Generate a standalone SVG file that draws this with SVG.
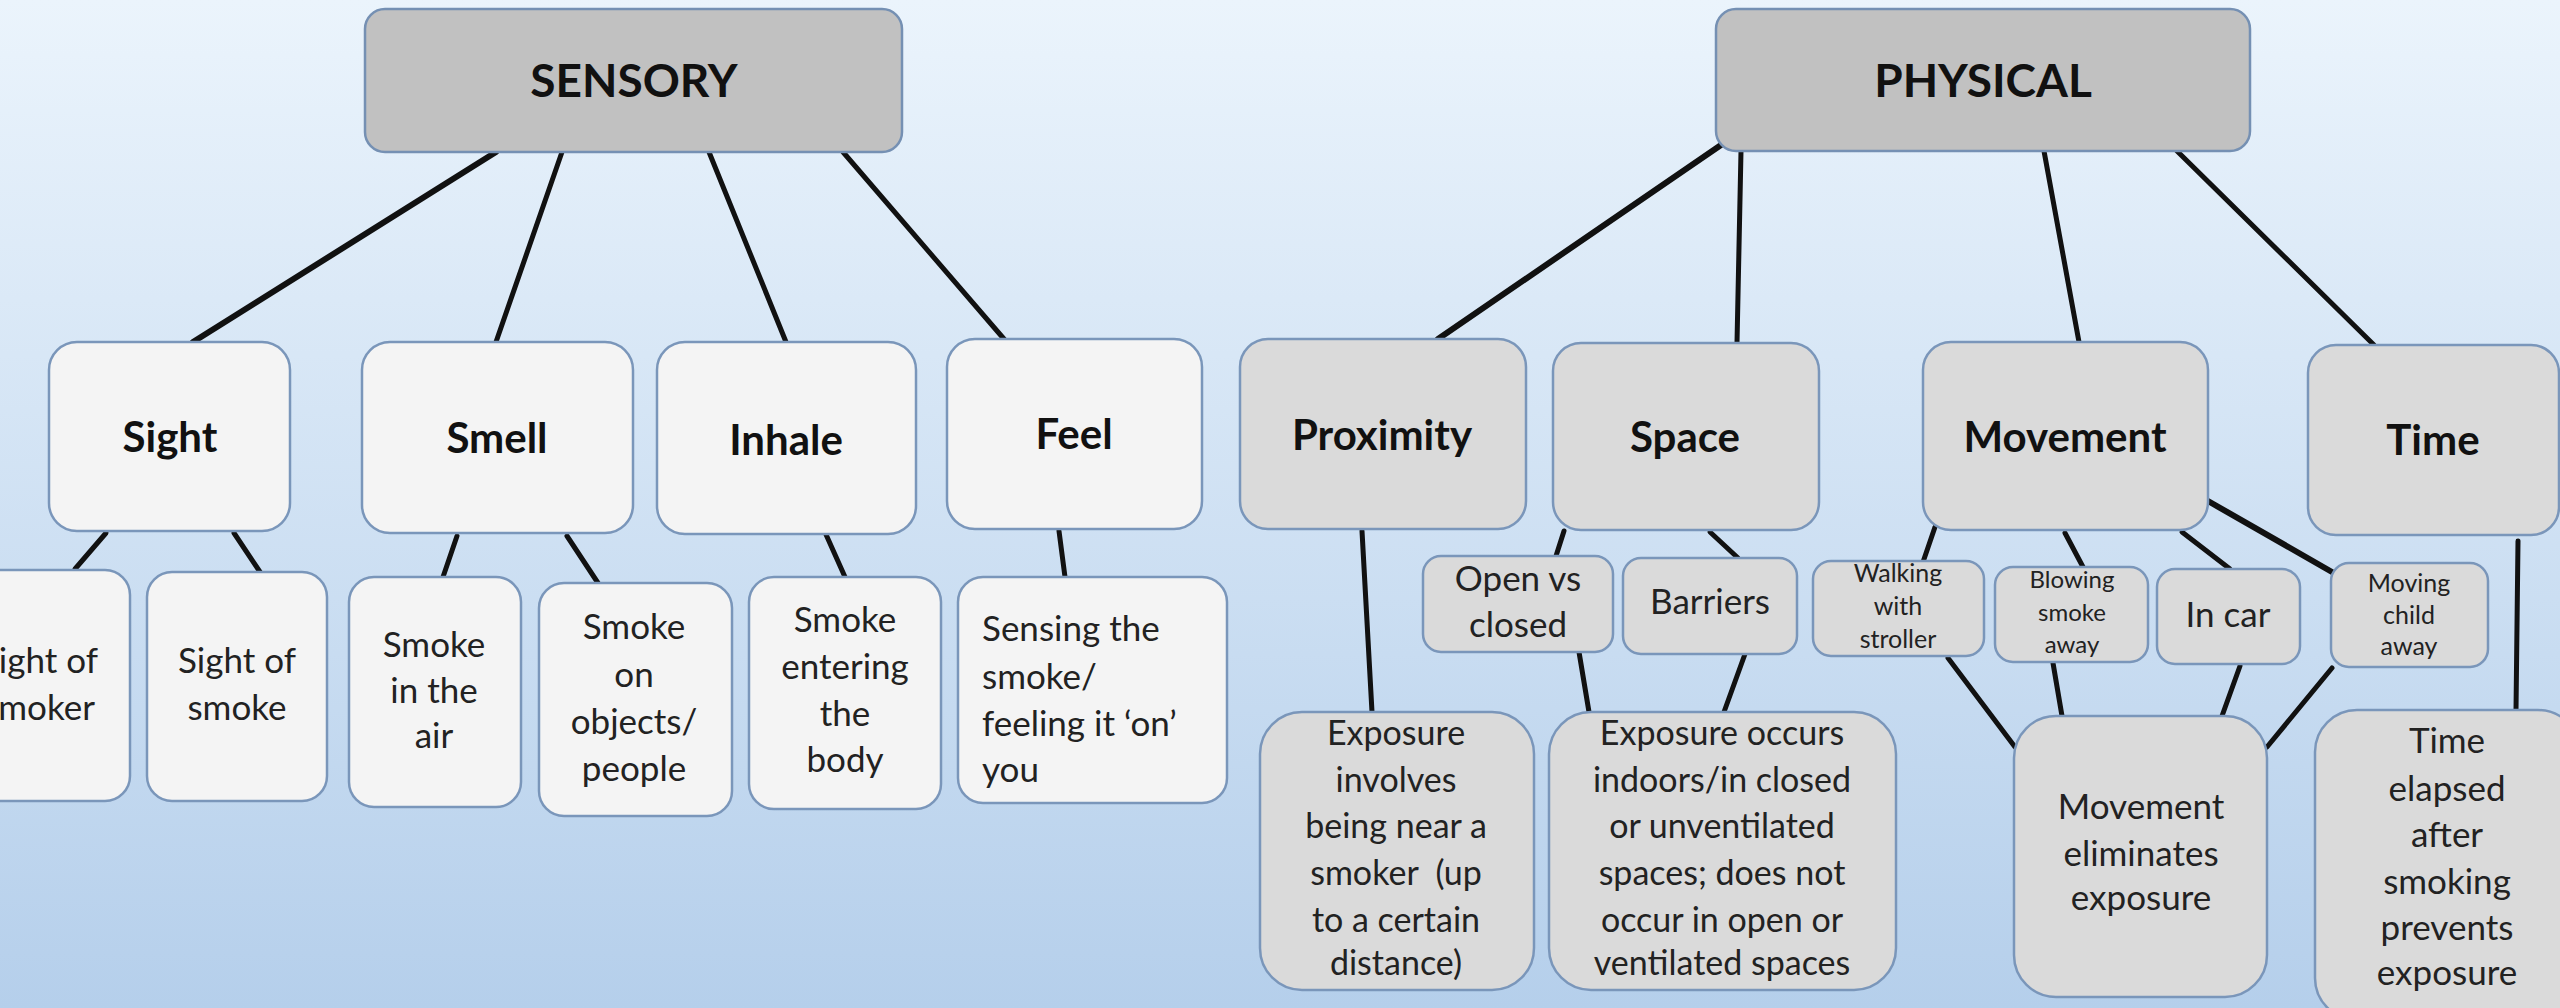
<svg xmlns="http://www.w3.org/2000/svg" width="2560" height="1008" viewBox="0 0 2560 1008">
<defs>
<linearGradient id="bg" x1="0" y1="0" x2="0" y2="1">
<stop offset="0" stop-color="#ebf4fc"/>
<stop offset="1" stop-color="#b5cfeb"/>
</linearGradient>
</defs>
<style>
.top{fill:#c1c1c1;stroke:#7590b3;stroke-width:2.5}
.lt{fill:#f4f4f4;stroke:#7a96ba;stroke-width:2.5}
.gr{fill:#dadada;stroke:#7a96ba;stroke-width:2.5}
text{font-family:Lato,"Open Sans","Liberation Sans",sans-serif;fill:#222;text-anchor:middle}
.h1{font-size:46px;font-weight:bold;fill:#111}
.h2{font-size:42px;font-weight:bold;fill:#111}
.t{font-size:35px}
.t4{font-size:34px}
.s{font-size:25px}
.s2{font-size:24px}
.c line{stroke:#111;stroke-width:5;stroke-linecap:round}
.c line.w{stroke-width:6}
</style>
<rect x="0" y="0" width="2560" height="1008" fill="url(#bg)"/>

<g class="c" id="connectors">
<line class="w" x1="496" y1="152" x2="193" y2="342"/>
<line x1="562" y1="152" x2="496" y2="342"/>
<line x1="709" y1="152" x2="786" y2="342"/>
<line x1="843" y1="152" x2="1004" y2="339"/>
<line x1="106" y1="533" x2="75" y2="569"/>
<line x1="234" y1="533" x2="260" y2="572"/>
<line x1="457" y1="536" x2="443" y2="577"/>
<line x1="567" y1="536" x2="598" y2="583"/>
<line x1="824" y1="530" x2="845" y2="577"/>
<line x1="1059" y1="531" x2="1065" y2="577"/>
<line class="w" x1="1721" y1="145" x2="1438" y2="339"/>
<line x1="1741" y1="151" x2="1737" y2="343"/>
<line x1="2044" y1="151" x2="2079" y2="342"/>
<line x1="2177" y1="151" x2="2374" y2="345"/>
<line x1="1362" y1="531" x2="1372" y2="712"/>
<line x1="1564" y1="531" x2="1556" y2="556"/>
<line x1="1710" y1="532" x2="1738" y2="558"/>
<line x1="1579" y1="652" x2="1589" y2="712"/>
<line x1="1745" y1="654" x2="1724" y2="712"/>
<line x1="1935" y1="527" x2="1922" y2="565"/>
<line x1="2065" y1="533" x2="2083" y2="567"/>
<line x1="2182" y1="532" x2="2230" y2="569"/>
<line class="w" x1="2208" y1="501" x2="2332" y2="572"/>
<line x1="1948" y1="658" x2="2015" y2="747"/>
<line x1="2053" y1="663" x2="2062" y2="716"/>
<line x1="2240" y1="666" x2="2222" y2="716"/>
<line x1="2332" y1="668" x2="2267" y2="747"/>
<line x1="2518" y1="541" x2="2516" y2="710"/>
</g>

<g id="sensory"><rect class="top" x="365" y="9" width="537" height="143" rx="20"/><text class="h1" x="634" y="97">SENSORY</text></g>
<g id="physical"><rect class="top" x="1716" y="9" width="534" height="142" rx="20"/><text class="h1" x="1983" y="97">PHYSICAL</text></g>

<g id="sight"><rect class="lt" x="49" y="342" width="241" height="189" rx="28"/><text class="h2" x="170" y="452">Sight</text></g>
<g id="smell"><rect class="lt" x="362" y="342" width="271" height="191" rx="28"/><text class="h2" x="497" y="453">Smell</text></g>
<g id="inhale"><rect class="lt" x="657" y="342" width="259" height="192" rx="28"/><text class="h2" x="786" y="455">Inhale</text></g>
<g id="feel"><rect class="lt" x="947" y="339" width="255" height="190" rx="28"/><text class="h2" x="1074" y="449">Feel</text></g>

<g id="proximity"><rect class="gr" x="1240" y="339" width="286" height="190" rx="28"/><text class="h2" x="1382" y="450">Proximity</text></g>
<g id="space"><rect class="gr" x="1553" y="343" width="266" height="187" rx="28"/><text class="h2" x="1685" y="452">Space</text></g>
<g id="movement"><rect class="gr" x="1923" y="342" width="285" height="188" rx="28"/><text class="h2" x="2065" y="452">Movement</text></g>
<g id="time"><rect class="gr" x="2308" y="345" width="251" height="190" rx="28"/><text class="h2" x="2433" y="455">Time</text></g>

<g id="sight-smoker"><rect class="lt" x="-51" y="570" width="181" height="231" rx="25"/><text class="t" x="39" y="673">Sight of</text><text class="t" x="39" y="720">smoker</text></g>
<g id="sight-smoke"><rect class="lt" x="147" y="572" width="180" height="229" rx="25"/><text class="t" x="237" y="673">Sight of</text><text class="t" x="237" y="720">smoke</text></g>
<g id="smoke-air"><rect class="lt" x="349" y="577" width="172" height="230" rx="25"/><text class="t" x="434" y="657">Smoke</text><text class="t" x="434" y="703">in the</text><text class="t" x="434" y="748">air</text></g>
<g id="smoke-objects"><rect class="lt" x="539" y="583" width="193" height="233" rx="25"/><text class="t" x="634" y="639">Smoke</text><text class="t" x="634" y="687">on</text><text class="t" x="634" y="734">objects/</text><text class="t" x="634" y="781">people</text></g>
<g id="smoke-entering"><rect class="lt" x="749" y="577" width="192" height="232" rx="25"/><text class="t" x="845" y="632">Smoke</text><text class="t" x="845" y="679">entering</text><text class="t" x="845" y="726">the</text><text class="t" x="845" y="772">body</text></g>
<g id="sensing"><rect class="lt" x="958" y="577" width="269" height="226" rx="25"/><text class="t" x="982" y="641" style="text-anchor:start">Sensing the</text><text class="t" x="982" y="689" style="text-anchor:start">smoke/</text><text class="t" x="982" y="736" style="text-anchor:start">feeling it ‘on’</text><text class="t" x="982" y="782" style="text-anchor:start">you</text></g>

<g id="open-closed"><rect class="gr" x="1423" y="556" width="190" height="96" rx="18"/><text class="t" x="1518" y="591">Open vs</text><text class="t" x="1518" y="637">closed</text></g>
<g id="barriers"><rect class="gr" x="1623" y="558" width="174" height="96" rx="18"/><text class="t" x="1710" y="614">Barriers</text></g>
<g id="walking"><rect class="gr" x="1813" y="561" width="171" height="95" rx="18"/><text class="s" x="1898" y="582">Walking</text><text class="s" x="1898" y="615">with</text><text class="s" x="1898" y="648">stroller</text></g>
<g id="blowing"><rect class="gr" x="1995" y="567" width="153" height="95" rx="18"/><text class="s2" x="2072" y="588">Blowing</text><text class="s2" x="2072" y="621">smoke</text><text class="s2" x="2072" y="653">away</text></g>
<g id="incar"><rect class="gr" x="2157" y="569" width="143" height="95" rx="18"/><text class="t" x="2228" y="627">In car</text></g>
<g id="moving-child"><rect class="gr" x="2331" y="563" width="157" height="104" rx="18"/><text class="s" x="2409" y="592">Moving</text><text class="s" x="2409" y="624">child</text><text class="s" x="2409" y="655">away</text></g>

<g id="exposure-near"><rect class="gr" x="1260" y="712" width="274" height="278" rx="42"/><text class="t4" x="1396" y="745">Exposure</text><text class="t4" x="1396" y="792">involves</text><text class="t4" x="1396" y="838">being near a</text><text class="t4" x="1396" y="885" xml:space="preserve">smoker  (up</text><text class="t4" x="1396" y="932">to a certain</text><text class="t4" x="1396" y="975">distance)</text></g>
<g id="exposure-indoors"><rect class="gr" x="1549" y="712" width="347" height="278" rx="42"/><text class="t4" x="1722" y="745">Exposure occurs</text><text class="t4" x="1722" y="792">indoors/in closed</text><text class="t4" x="1722" y="838">or unventilated</text><text class="t4" x="1722" y="885">spaces; does not</text><text class="t4" x="1722" y="932">occur in open or</text><text class="t4" x="1722" y="975">ventilated spaces</text></g>
<g id="movement-elim"><rect class="gr" x="2014" y="716" width="253" height="281" rx="42"/><text class="t" x="2141" y="819">Movement</text><text class="t" x="2141" y="866">eliminates</text><text class="t" x="2141" y="910">exposure</text></g>
<g id="time-elapsed"><rect class="gr" x="2315" y="710" width="265" height="310" rx="42"/><text class="t" x="2447" y="753">Time</text><text class="t" x="2447" y="801">elapsed</text><text class="t" x="2447" y="847">after</text><text class="t" x="2447" y="894">smoking</text><text class="t" x="2447" y="940">prevents</text><text class="t" x="2447" y="985">exposure</text></g>
</svg>
